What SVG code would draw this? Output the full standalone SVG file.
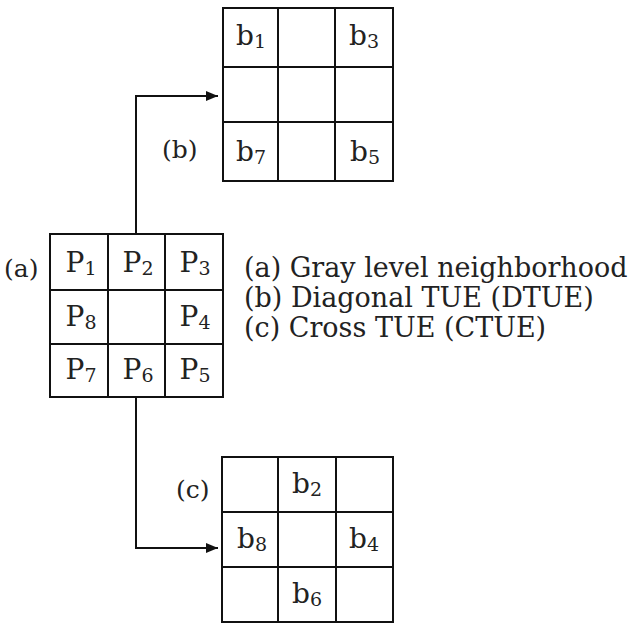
<svg xmlns="http://www.w3.org/2000/svg" width="633" height="627" viewBox="0 0 633 627">
<style>
.g{fill:none;stroke:#111;stroke-width:2}
.c{fill:none;stroke:#111;stroke-width:2}
.t{font-family:"DejaVu Serif","Liberation Serif",serif;font-size:28px;fill:#222}
.m{text-anchor:middle}
.s{font-size:19px}
.l{font-family:"DejaVu Serif","Liberation Serif",serif;font-size:25px;fill:#222}
.k{font-family:"DejaVu Serif","Liberation Serif",serif;font-size:27px;fill:#222}
</style>
<defs>
<marker id="ah" viewBox="0 0 12 10" refX="12" refY="5" markerWidth="12" markerHeight="10" markerUnits="userSpaceOnUse" orient="auto">
<path d="M0,0 L12,5 L0,10 Z" fill="#111"/>
</marker>
</defs>
<rect width="633" height="627" fill="#fff"/>
<g id="connectors">
<path class="c" d="M136,234 V96 H218" marker-end="url(#ah)"/>
<path class="c" d="M136,397 V548 H218" marker-end="url(#ah)"/>
</g>
<g id="grid-a">
<rect class="g" x="50" y="234" width="173" height="163"/>
<path class="g" d="M108,234 V397 M165,234 V397 M50,290 H223 M50,344 H223"/>
<text class="t m" x="81" y="272">P<tspan class="s" dy="3">1</tspan></text>
<text class="t m" x="138" y="272">P<tspan class="s" dy="3">2</tspan></text>
<text class="t m" x="195" y="272">P<tspan class="s" dy="3">3</tspan></text>
<text class="t m" x="81" y="326">P<tspan class="s" dy="3">8</tspan></text>
<text class="t m" x="195" y="326">P<tspan class="s" dy="3">4</tspan></text>
<text class="t m" x="81" y="379">P<tspan class="s" dy="3">7</tspan></text>
<text class="t m" x="138" y="379">P<tspan class="s" dy="3">6</tspan></text>
<text class="t m" x="195" y="379">P<tspan class="s" dy="3">5</tspan></text>
</g>
<g id="grid-b">
<rect class="g" x="223" y="8" width="170" height="173"/>
<path class="g" d="M278,8 V181 M335,8 V181 M223,67 H393 M223,122 H393"/>
<text class="t m" x="251" y="45">b<tspan class="s" dy="3">1</tspan></text>
<text class="t m" x="364" y="45">b<tspan class="s" dy="3">3</tspan></text>
<text class="t m" x="251" y="161">b<tspan class="s" dy="3">7</tspan></text>
<text class="t m" x="365" y="161">b<tspan class="s" dy="3">5</tspan></text>
</g>
<g id="grid-c">
<rect class="g" x="222" y="457" width="171" height="165"/>
<path class="g" d="M278,457 V622 M336,457 V622 M222,512 H393 M222,567 H393"/>
<text class="t m" x="307" y="493">b<tspan class="s" dy="3">2</tspan></text>
<text class="t m" x="252" y="548">b<tspan class="s" dy="3">8</tspan></text>
<text class="t m" x="364" y="548">b<tspan class="s" dy="3">4</tspan></text>
<text class="t m" x="307" y="603">b<tspan class="s" dy="3">6</tspan></text>
</g>
<g id="labels">
<text class="l" x="4" y="277">(a)</text>
<text class="l" x="162" y="158">(b)</text>
<text class="l" x="176" y="498">(c)</text>
</g>
<g id="legend">
<text class="k" x="244" y="277">(a) Gray level neighborhood</text>
<text class="k" x="244" y="307">(b) Diagonal TUE (DTUE)</text>
<text class="k" x="244" y="337">(c) Cross TUE (CTUE)</text>
</g>
</svg>
